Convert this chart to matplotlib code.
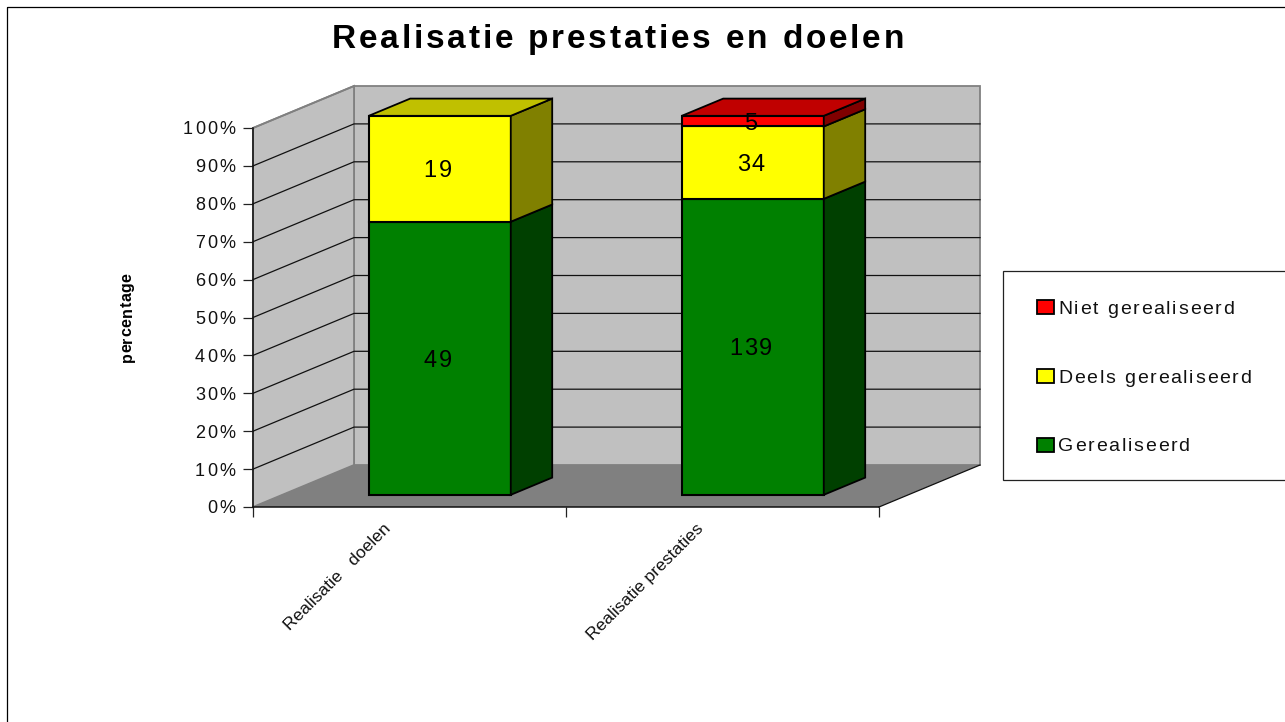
import numpy as np
import matplotlib
matplotlib.use("Agg")
import matplotlib.pyplot as plt
from matplotlib.font_manager import findfont, get_font
from matplotlib.ft2font import LoadFlags
from matplotlib.patches import Polygon, Rectangle
from matplotlib.text import Text
from matplotlib.transforms import Bbox, IdentityTransform

plt.rcParams["font.family"] = ["Liberation Sans", "DejaVu Sans"]

TITLE = "Realisatie prestaties en doelen"
YLABEL = "percentage"
CATEGORIES = ["Realisatie   doelen", "Realisatie prestaties"]
SERIES = ["Gerealiseerd", "Deels gerealiseerd", "Niet gerealiseerd"]
GEREALISEERD = [49, 139]
DEELS = [19, 34]
NIET = [0, 5]
YTICKS = [0, 10, 20, 30, 40, 50, 60, 70, 80, 90, 100]

COLORS = ["#008000", "#FFFF00", "#FF0000"]
SIDE = ["#004000", "#808000", "#800000"]
TOP = ["#00A000", "#C0C000", "#C00000"]

W, H = 1285, 722
fig = plt.figure(figsize=(W / 100, H / 100), dpi=100, facecolor="white")


def fx(x, y):
    return x / W, 1 - y / H


class TrackedText(Text):
    """A text whose glyphs are set with extra space between them."""

    def __init__(self, *args, tracking=0.0, **kwargs):
        super().__init__(*args, **kwargs)
        self._tracking = tracking

    def _layout(self):
        dpi = self.figure.dpi
        font = get_font(findfont(self.get_fontproperties()))
        font.set_size(self.get_fontsize(), dpi)
        adv = []
        for ch in self.get_text():
            g = font.load_char(ord(ch), flags=LoadFlags.NO_HINTING)
            adv.append(g.linearHoriAdvance / 65536 + self._tracking)
        total = sum(adv) - self._tracking
        size = self.get_fontsize() * dpi / 72
        a = np.deg2rad(self.get_rotation())
        u = np.array([np.cos(a), np.sin(a)])
        n = np.array([-np.sin(a), np.cos(a)])
        p = np.array(self.get_transform().transform(self.get_position()), float)
        ha = self.get_ha()
        start = {"left": 0, "center": -total / 2, "right": -total}[ha]
        v = {"baseline": 0, "center": -0.358 * size}[self.get_va()]
        return p + u * start + n * v, u, n, adv, total, size

    def draw(self, renderer):
        if not self.get_visible():
            return
        o, u, n, adv, total, size = self._layout()
        d = 0.0
        for ch, w in zip(self.get_text(), adv):
            q = o + u * d
            g = Text(q[0], q[1], ch, fontproperties=self.get_fontproperties(),
                     color=self.get_color(), rotation=self.get_rotation(),
                     rotation_mode="anchor", ha="left", va="baseline",
                     transform=IdentityTransform())
            g.set_figure(self.figure)
            g.draw(renderer)
            d += w

    def get_window_extent(self, renderer=None, dpi=None):
        o, u, n, adv, total, size = self._layout()
        pts = np.array([o - n * 0.21 * size, o + n * 0.72 * size,
                        o + u * total - n * 0.21 * size, o + u * total + n * 0.72 * size])
        return Bbox([pts.min(axis=0), pts.max(axis=0)])


def add_text(s, x, y, transform, **kw):
    t = TrackedText(x, y, s, transform=transform, **kw)
    fig.add_artist(t)
    return t


# outer chart frame
fig.add_artist(Rectangle(fx(7, 7), 1.1, -1.1, transform=fig.transFigure, fc="none",
                         ec="black", lw=0.9))

# axes = the front plane of the 3-D box
X0, X1, Y0, Y100 = 253, 879, 507, 128
ax = fig.add_axes([X0 / W, 1 - Y0 / H, (X1 - X0) / W, (Y0 - Y100) / H])
ax.set_xlim(0, 2)
ax.set_ylim(0, 100)
ax.patch.set_visible(False)
for s in ("top", "right"):
    ax.spines[s].set_visible(False)
for s in ("left", "bottom"):
    ax.spines[s].set_zorder(6)
    ax.spines[s].set_linewidth(1.1)
    ax.spines[s].set_color("#111111")
ax.set_yticks(YTICKS)
ax.set_yticklabels([])
ax.set_xticks(range(len(CATEGORIES) + 1))
ax.set_xticklabels([])
ax.tick_params(axis="both", length=7, width=0.9, color="#222222")

# depth of the box: data units per unit of depth
DX = 101 / ((X1 - X0) / 2)
DY = 42 / ((Y0 - Y100) / 100)


def P(x, y, d=0.0):
    return (x + d * DX, y + d * DY)


def poly(pts, fc, ec="none", lw=0.0, z=1):
    ax.add_patch(Polygon(pts, closed=True, fc=fc, ec=ec, lw=lw, zorder=z,
                         clip_on=False, joinstyle="miter"))


# walls and floor
poly([P(0, 0, 1), P(2, 0, 1), P(2, 100, 1), P(0, 100, 1)], "#C0C0C0", "#808080", 1.3)
poly([P(0, 0), P(0, 0, 1), P(0, 100, 1), P(0, 100)], "#C0C0C0", "#808080", 1.3)
poly([P(0, 0), P(2, 0), P(2, 0, 1), P(0, 0, 1)], "#808080")
ax.plot(*zip(P(2, 0), P(2, 0, 1)), color="#111111", lw=0.9, clip_on=False, zorder=2)
for v in YTICKS[1:-1]:
    ax.plot(*zip(P(0, v), P(0, v, 1), P(2, v, 1)), color="#111111", lw=0.9,
            clip_on=False, zorder=2)
ax.plot(*zip(P(0, 100), P(0, 100, 1)), color="#808080", lw=1.3, clip_on=False, zorder=2)

# stacked bars, normalised to 100 %
BAR_W = 142 / ((X1 - X0) / 2)
D_FRONT, D_BACK = 0.29, 0.70
X_NUDGE = 1 / ((X1 - X0) / 2)
counts = np.array([GEREALISEERD, DEELS, NIET], float)
for i in range(len(CATEGORIES)):
    bottom = 0.0
    total = counts[:, i].sum()
    l, r = i + 0.5 - BAR_W / 2 + X_NUDGE, i + 0.5 + BAR_W / 2 + X_NUDGE
    for j in range(len(SERIES)):
        if counts[j, i] == 0:
            continue
        top = bottom + 100 * counts[j, i] / total
        poly([P(l, bottom, D_FRONT), P(r, bottom, D_FRONT), P(r, top, D_FRONT), P(l, top, D_FRONT)],
             COLORS[j], "black", 1.5, 3)
        poly([P(r, bottom, D_FRONT), P(r, bottom, D_BACK), P(r, top, D_BACK), P(r, top, D_FRONT)],
             SIDE[j], "black", 1.3, 3)
        if top > 99.9:
            poly([P(l, top, D_FRONT), P(r, top, D_FRONT), P(r, top, D_BACK), P(l, top, D_BACK)],
                 TOP[j], "black", 1.3, 3)
        cx, cy = P(i + 0.5, (bottom + top) / 2, D_FRONT)
        add_text(str(int(counts[j, i])), cx - 1 / 313, cy, ax.transData, tracking=2.0, fontsize=17,
                 ha="center", va="center", color="black", zorder=8)
        bottom = top

# y tick labels
for v in YTICKS:
    add_text(f"{v}%", -0.0285, v, ax.get_yaxis_transform(), tracking=2.1, fontsize=13,
             ha="right", va="center", color="#111111")

# x tick labels
for i, c in enumerate(CATEGORIES):
    ax.text(i + 0.5 - 0.085, -3.6, c, rotation=45, rotation_mode="anchor",
            ha="right", va="top", fontsize=12.6, color="#111111", clip_on=False)

# titles
add_text(TITLE, *fx(618, 36.5), fig.transFigure, tracking=2.8, fontsize=24, fontweight="bold",
         ha="center", va="center", color="black")
add_text(YLABEL, *fx(126, 317.5), fig.transFigure, tracking=0.4, fontsize=11.5, fontweight="bold",
         rotation=90, ha="center", va="center", color="black")

# legend
fig.add_artist(Rectangle(fx(1003, 480), 0.25, 209 / H, transform=fig.transFigure, fc="white",
                         ec="#222222", lw=0.9, zorder=3))
for name, col, yc in zip(SERIES, COLORS, [444.5, 376, 307]):
    fig.add_artist(Rectangle(fx(1036.5, yc + 7), 17.5 / W, 14 / H, transform=fig.transFigure,
                             fc=col, ec="black", lw=1.3, zorder=4))
    add_text(name, *fx(1058, yc), fig.transFigure, tracking=1.8, fontsize=14,
             ha="left", va="center", color="#111111", zorder=5)

fig.savefig("out.png", dpi=100)
